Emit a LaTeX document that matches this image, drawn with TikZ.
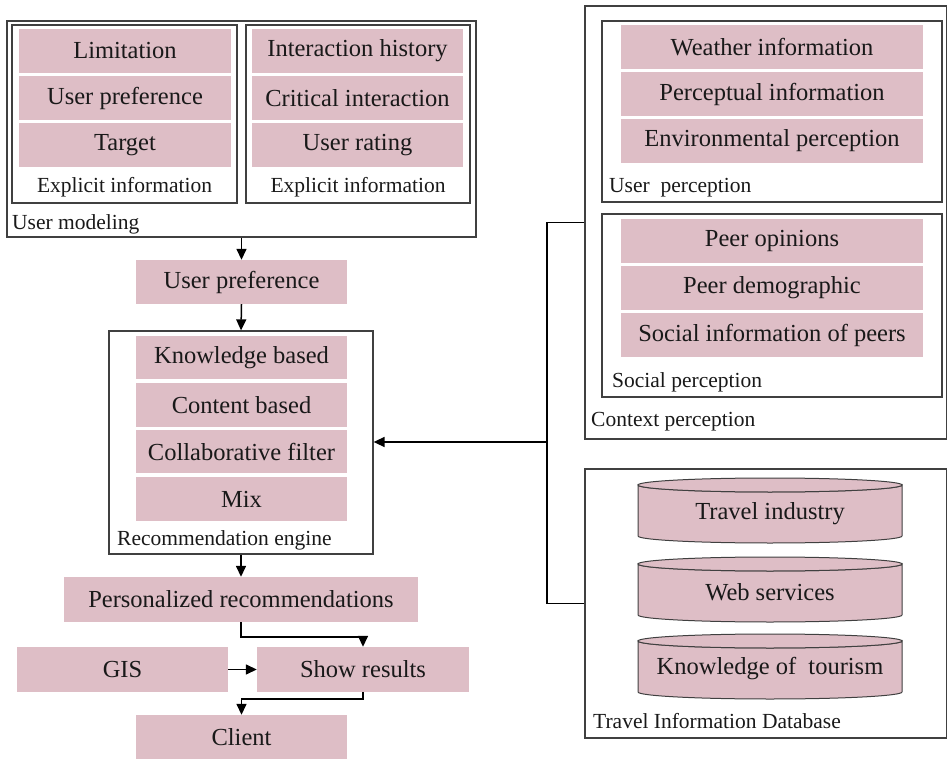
\documentclass[tikz,border=0pt]{standalone}
\usepackage{fontspec}
\setmainfont{Liberation Serif}
\usetikzlibrary{arrows.meta,calc}
\definecolor{pinkfill}{RGB}{222,190,198}
\newcommand\boxat[7]{% style, name, x1, y1, x2, y2, text
  \node[#1, minimum width={(#5-#3)*1pt}, minimum height={(#6-#4)*1pt}] (#2) at ({(#3+#5)/2},{(#4+#6)/2}) {#7};}
\begin{document}
\begin{tikzpicture}[x=1pt,y=-1pt,
 pk/.style={fill=pinkfill, inner sep=0pt, font=\fontsize{24.5}{28}\selectfont, text=black!90},
 grp/.style={draw=black!75, line width=1.3pt, inner sep=0pt},
 lbl/.style={font=\fontsize{21.5}{25}\selectfont, text=black!90, inner sep=0pt},
 conn/.style={line width=1.5pt, black},
 arr/.style={conn, -{Triangle[length=11pt,width=10pt]}},
 cyl/.style={fill=pinkfill, draw=black!75, line width=1pt},
]
\useasboundingbox (0,0) rectangle (948,759);

% ---------- User modeling ----------
\boxat{grp}{um}{7}{21}{476}{237}{}
\boxat{grp}{ei1}{12}{25}{237}{203}{}
\boxat{grp}{ei2}{246}{25}{470}{203}{}
\boxat{pk}{lim}{19}{29}{231}{73}{Limitation}
\boxat{pk}{upf}{19}{76}{231}{120}{User preference}
\boxat{pk}{tgt}{19}{123}{231}{167}{Target}
\boxat{pk}{ih}{252}{29}{463}{73}{Interaction history}
\boxat{pk}{ci}{252}{76}{463}{120}{Critical interaction}
\boxat{pk}{ur}{252}{123}{463}{167}{User rating}
\node[lbl] (eil1) at (124.5,187) {Explicit information};
\node[lbl] (eil2) at (358,187) {Explicit information};
\node[lbl, anchor=west] (uml) at (12,224) {User modeling};

% ---------- User preference ----------
\boxat{pk}{upref}{136}{260}{347}{304}{User preference}

% ---------- Recommendation engine ----------
\boxat{grp}{reng}{109}{331}{373}{554}{}
\boxat{pk}{kb}{136}{336}{347}{379}{Knowledge based}
\boxat{pk}{cb}{136}{383}{347}{427}{Content based}
\boxat{pk}{cf}{136}{430}{347}{473}{Collaborative filter}
\boxat{pk}{mix}{136}{477}{347}{521}{Mix}
\node[lbl, anchor=west] (rengl) at (117,540) {Recommendation engine};

% ---------- Bottom flow ----------
\boxat{pk}{prec}{64}{577}{418}{622}{Personalized recommendations}
\boxat{pk}{gis}{17}{647}{228}{692}{GIS}
\boxat{pk}{show}{257}{647}{469}{692}{Show results}
\boxat{pk}{client}{136}{715}{347}{759}{Client}

% ---------- Context perception ----------
\boxat{grp}{ctx}{585}{6}{946.5}{439}{}
\boxat{grp}{upc}{602}{21}{942}{202}{}
\boxat{pk}{wi}{621}{25}{923}{69}{Weather information}
\boxat{pk}{pi}{621}{72}{923}{116}{Perceptual information}
\boxat{pk}{ep}{621}{119}{923}{163}{Environmental perception}
\node[lbl, anchor=west] (upcl) at (609,188) {User\ \ perception};
\boxat{grp}{spc}{602}{214}{942}{397}{}
\boxat{pk}{po}{621}{219}{923}{263}{Peer opinions}
\boxat{pk}{pd}{621}{266}{923}{310}{Peer demographic}
\boxat{pk}{sip}{621}{313}{923}{357}{Social information of peers}
\node[lbl, anchor=west] (spcl) at (612,382) {Social perception};
\node[lbl, anchor=west] (ctxl) at (591,422) {Context perception};

% ---------- Travel Information Database ----------
\boxat{grp}{db}{585}{469}{946.5}{738}{}
\foreach \t/\b in {478/543, 557/622, 634/699}{
  \pgfmathsetmacro{\tc}{\t+7}
  \pgfmathsetmacro{\bc}{\b-7}
  \path[cyl] (638,\tc) -- (638,\bc) arc[start angle=180, end angle=0, x radius=132, y radius=7] -- (902,\tc) arc[start angle=0, end angle=180, x radius=132, y radius=7] -- cycle;
  \draw[cyl] (770,\tc) ellipse[x radius=132, y radius=7];
}
\node[pk, fill=none] (ti) at (770,514) {Travel industry};
\node[pk, fill=none] (ws) at (770,592) {Web services};
\node[pk, fill=none] (kt) at (770,669) {Knowledge of\ \ tourism};
\node[lbl, anchor=west] (dbl) at (593,721) {Travel Information Database};

% ---------- Connectors ----------
\draw[arr] (um.south) -- (upref.north);
\draw[arr] (upref.south) -- (reng.north);
\coordinate (jn) at (547,442);
\draw[conn] (ctx.west) -| (jn) |- (db.west);
\draw[arr] (jn) -- (reng.east |- jn);
\draw[arr] (reng.south) -- (prec.north);
\coordinate (b1) at (363,637);
\draw[arr] (prec.south) |- (b1) -- (show.north);
\draw[arr] (gis.east) -- (show.west);
\coordinate (b2) at (241.5,699);
\draw[arr] (show.south) |- (b2) -- (client.north);
\end{tikzpicture}
\end{document}
